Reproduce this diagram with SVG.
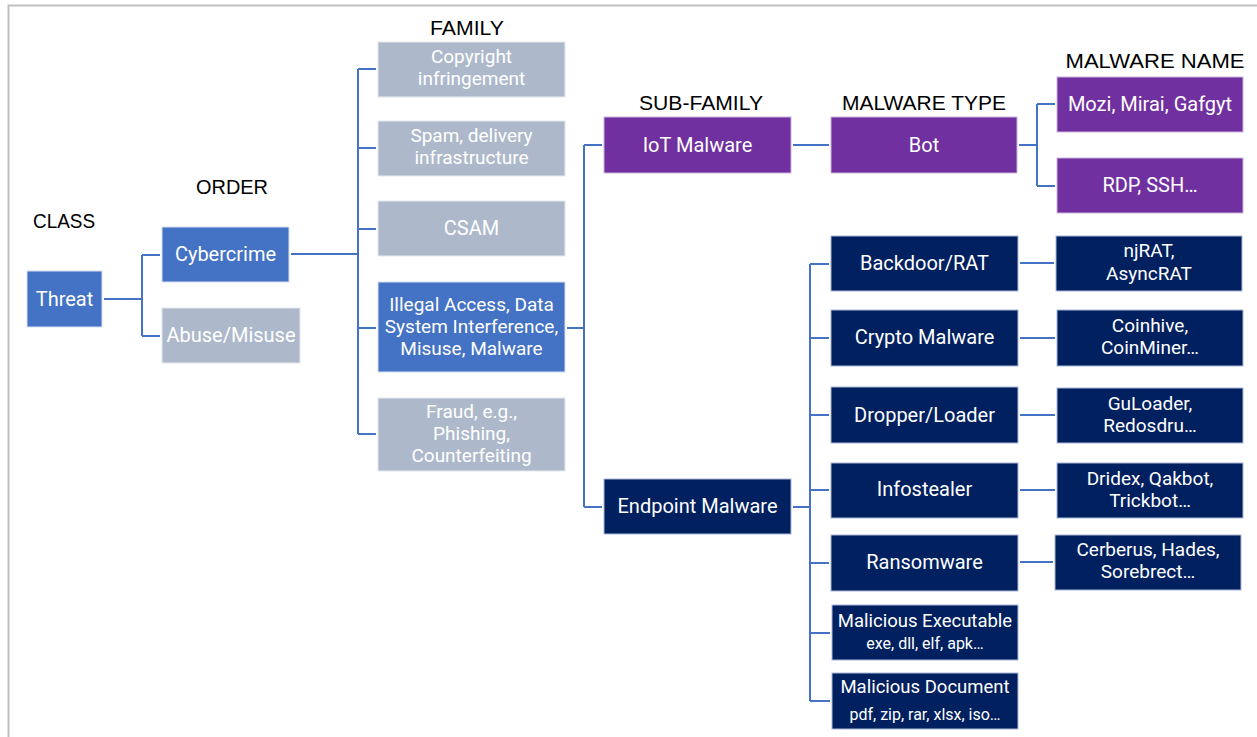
<svg xmlns="http://www.w3.org/2000/svg" width="1257" height="737" viewBox="0 0 1257 737">
<style>
.hd{font-family:"Liberation Sans",Arial,sans-serif;font-size:21px;fill:#000;text-anchor:middle}
.t{font-family:Roboto,"Liberation Sans",sans-serif;font-size:20px;fill:#fff;text-anchor:middle}
.ml{font-size:19px}
.s{font-size:16px}
.m{font-size:18.5px}
.blue{fill:#4472C4;stroke:#d6dff0;stroke-width:1}
.gray{fill:#ADB9CA;stroke:#e3e8ef;stroke-width:1}
.purple{fill:#7030A0;stroke:#c9b3dc;stroke-width:1}
.navy{fill:#002060;stroke:#a9b8d6;stroke-width:1}
.c{fill:none;stroke:#4472C4;stroke-width:2}
</style>
<rect x="0" y="0" width="1257" height="737" fill="#fff"/>
<rect x="8.5" y="5.5" width="1262" height="745" fill="none" stroke="#bfbfbf" stroke-width="2"/>
<g id="headings">
<text class="hd" x="64" y="228" textLength="62" lengthAdjust="spacingAndGlyphs">CLASS</text>
<text class="hd" x="232" y="194" textLength="72" lengthAdjust="spacingAndGlyphs">ORDER</text>
<text class="hd" x="467" y="35" textLength="74" lengthAdjust="spacingAndGlyphs">FAMILY</text>
<text class="hd" x="701" y="110" textLength="124" lengthAdjust="spacingAndGlyphs">SUB-FAMILY</text>
<text class="hd" x="924" y="110" textLength="164" lengthAdjust="spacingAndGlyphs">MALWARE TYPE</text>
<text class="hd" x="1155" y="68" textLength="179" lengthAdjust="spacingAndGlyphs">MALWARE NAME</text>
</g>
<g id="connectors">
<path class="c" d="M104 299H142M142 255V336M142 255H160M142 336H160"/>
<path class="c" d="M291 254H358M358 69V434M358 69H376M358 148H376M358 229H376M358 328H376M358 434H376"/>
<path class="c" d="M567 328H584M584 145V507M584 145H602M584 507H602"/>
<path class="c" d="M793 145H829"/>
<path class="c" d="M1019 145H1037M1037 104V186M1037 104H1055M1037 186H1055"/>
<path class="c" d="M793 507H810M810 264V701M810 264H829M810 338H829M810 415H829M810 490H829M810 563H829M810 633H830M810 701H830"/>
<path class="c" d="M1020 263H1054M1020 338H1055M1020 415H1055M1020 490H1055M1020 562H1053"/>
</g>
<g id="threat"><rect class="blue" x="27" y="271" width="75" height="56"/><text class="t" x="64.5" y="306">Threat</text></g>
<g id="cybercrime"><rect class="blue" x="162" y="227" width="127" height="55"/><text class="t" x="225.5" y="261">Cybercrime</text></g>
<g id="abuse"><rect class="gray" x="162" y="308" width="138" height="55"/><text class="t" x="231" y="342">Abuse/Misuse</text></g>
<g id="copyright"><rect class="gray" x="378" y="42" width="187" height="55"/><text class="t ml" x="471.5" y="63">Copyright</text><text class="t ml" x="471.5" y="85">infringement</text></g>
<g id="spam"><rect class="gray" x="378" y="121" width="187" height="55"/><text class="t ml" x="471.5" y="142">Spam, delivery</text><text class="t ml" x="471.5" y="164">infrastructure</text></g>
<g id="csam"><rect class="gray" x="378" y="201" width="187" height="55"/><text class="t" x="471.5" y="235">CSAM</text></g>
<g id="illegal"><rect class="blue" x="378" y="282" width="187" height="90"/><text class="t ml" x="471.5" y="311">Illegal Access, Data</text><text class="t ml" x="471.5" y="333">System Interference,</text><text class="t ml" x="471.5" y="355">Misuse, Malware</text></g>
<g id="fraud"><rect class="gray" x="378" y="398" width="187" height="73"/><text class="t ml" x="471.5" y="418">Fraud, e.g.,</text><text class="t ml" x="471.5" y="440">Phishing,</text><text class="t ml" x="471.5" y="462">Counterfeiting</text></g>
<g id="iot"><rect class="purple" x="604" y="117" width="187" height="56"/><text class="t" x="697.5" y="152">IoT Malware</text></g>
<g id="bot"><rect class="purple" x="831" y="117" width="186" height="56"/><text class="t" x="924" y="152">Bot</text></g>
<g id="mozi"><rect class="purple" x="1057" y="77" width="186" height="55"/><text class="t" x="1150" y="111">Mozi, Mirai, Gafgyt</text></g>
<g id="rdp"><rect class="purple" x="1057" y="158" width="186" height="55"/><text class="t" x="1150" y="192">RDP, SSH…</text></g>
<g id="endpoint"><rect class="navy" x="604" y="479" width="187" height="55"/><text class="t" x="697.5" y="513">Endpoint Malware</text></g>
<g id="backdoor"><rect class="navy" x="831" y="236" width="187" height="55"/><text class="t" x="924.5" y="270">Backdoor/RAT</text></g>
<g id="crypto"><rect class="navy" x="831" y="310" width="187" height="56"/><text class="t" x="924.5" y="344">Crypto Malware</text></g>
<g id="dropper"><rect class="navy" x="831" y="387" width="187" height="56"/><text class="t" x="924.5" y="422">Dropper/Loader</text></g>
<g id="infostealer"><rect class="navy" x="831" y="463" width="187" height="55"/><text class="t" x="924.5" y="496">Infostealer</text></g>
<g id="ransomware"><rect class="navy" x="831" y="535" width="187" height="56"/><text class="t" x="924.5" y="569">Ransomware</text></g>
<g id="malexec"><rect class="navy" x="832" y="605" width="186" height="55"/><text class="t m" x="925" y="627">Malicious Executable</text><text class="t s" x="925" y="649">exe, dll, elf, apk…</text></g>
<g id="maldoc"><rect class="navy" x="832" y="673" width="186" height="56"/><text class="t m" x="925" y="693">Malicious Document</text><text class="t s" x="925" y="720">pdf, zip, rar, xlsx, iso…</text></g>
<g id="njrat"><rect class="navy" x="1056" y="236" width="186" height="55"/><text class="t ml" x="1149" y="257">njRAT,</text><text class="t ml" x="1149" y="280">AsyncRAT</text></g>
<g id="coinhive"><rect class="navy" x="1057" y="310" width="186" height="56"/><text class="t ml" x="1150" y="332">Coinhive,</text><text class="t ml" x="1150" y="354">CoinMiner…</text></g>
<g id="guloader"><rect class="navy" x="1057" y="388" width="186" height="55"/><text class="t ml" x="1150" y="410">GuLoader,</text><text class="t ml" x="1150" y="432">Redosdru…</text></g>
<g id="dridex"><rect class="navy" x="1057" y="463" width="186" height="55"/><text class="t ml" x="1150" y="485">Dridex, Qakbot,</text><text class="t ml" x="1150" y="507">Trickbot…</text></g>
<g id="cerberus"><rect class="navy" x="1055" y="535" width="186" height="55"/><text class="t ml" x="1148" y="556">Cerberus, Hades,</text><text class="t ml" x="1148" y="578">Sorebrect…</text></g>
</svg>
